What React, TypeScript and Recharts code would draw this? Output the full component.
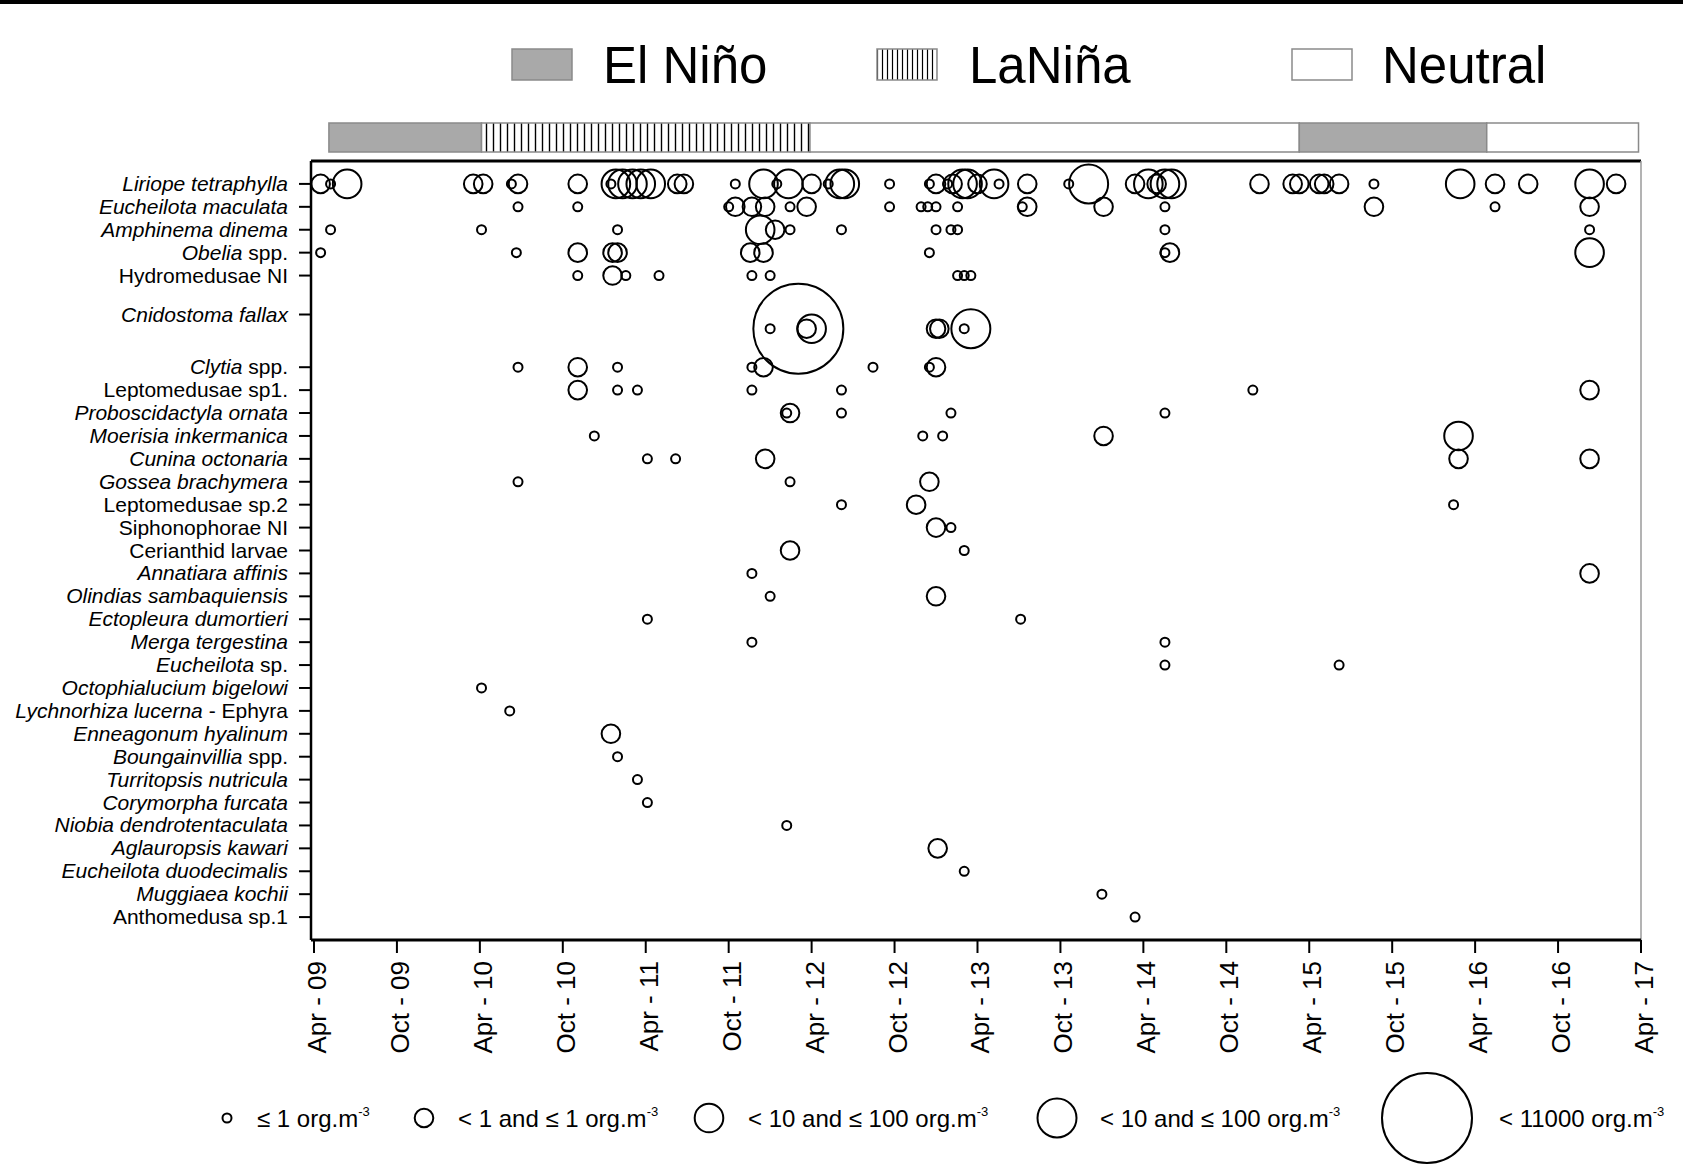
import React from "react";
import { ScatterChart, Scatter, XAxis, YAxis, ReferenceLine, ReferenceArea } from "recharts";

const FONT = "Arial, 'Liberation Sans', Helvetica, sans-serif";

// species labels: italic part + plain part
const speciesItalic = [
  "Liriope tetraphylla", "Eucheilota maculata", "Amphinema dinema", "Obelia", "",
  "Cnidostoma fallax", "Clytia", "", "Proboscidactyla ornata", "Moerisia inkermanica",
  "Cunina octonaria", "Gossea brachymera", "", "", "",
  "Annatiara affinis", "Olindias sambaquiensis", "Ectopleura dumortieri", "Merga tergestina", "Eucheilota",
  "Octophialucium bigelowi", "Lychnorhiza lucerna", "Enneagonum hyalinum", "Boungainvillia", "Turritopsis nutricula",
  "Corymorpha furcata", "Niobia dendrotentaculata", "Aglauropsis kawari", "Eucheilota duodecimalis", "Muggiaea kochii",
  "",
];
const speciesPlain = [
  "", "", "", " spp.", "Hydromedusae NI",
  "", " spp.", "Leptomedusae sp1.", "", "",
  "", "", "Leptomedusae sp.2", "Siphonophorae NI", "Cerianthid larvae",
  "", "", "", "", " sp.",
  "", " - Ephyra", "", " spp.", "",
  "", "", "", "", "",
  "Anthomedusa sp.1",
];
// row where the label tick sits / row where the bubbles sit
const tickRows = [1, 2, 3, 4, 5, 6.7, 9, 10, 11, 12, 13, 14, 15, 16, 17, 18, 19, 20, 21, 22, 23, 24, 25, 26, 27, 28, 29, 30, 31, 32, 33];
const markRows = [1, 2, 3, 4, 5, 7.32, 9, 10, 11, 12, 13, 14, 15, 16, 17, 18, 19, 20, 21, 22, 23, 24, 25, 26, 27, 28, 29, 30, 31, 32, 33];

const xTicks = [2009.25, 2009.75, 2010.25, 2010.75, 2011.25, 2011.75, 2012.25, 2012.75, 2013.25, 2013.75, 2014.25, 2014.75, 2015.25, 2015.75, 2016.25, 2016.75, 2017.25];
const xTickLabels = ["Apr - 09", "Oct - 09", "Apr - 10", "Oct - 10", "Apr - 11", "Oct - 11", "Apr - 12", "Oct - 12", "Apr - 13", "Oct - 13", "Apr - 14", "Oct - 14", "Apr - 15", "Oct - 15", "Apr - 16", "Oct - 16", "Apr - 17"];

// ENSO phases (decimal years)
const ensoStart = [2009.34, 2010.26, 2012.24, 2015.19, 2016.32];
const ensoEnd = [2010.26, 2012.24, 2015.19, 2016.32, 2017.235];
const ensoPhase = ["nino", "nina", "neutral", "nino", "neutral"];

// size classes -> circle radius
const classRadius = [4.5, 9.3, 14.3, 19.5, 45];
const classLabels = ["\u2264 1 org.m", "< 1 and \u2264 1 org.m", "< 10 and \u2264 100 org.m", "< 10 and \u2264 100 org.m", "< 11000 org.m"];

// samples: [decimal year, size class]
const liriopeTetraphylla = [
  [2009.29, 2], [2009.35, 1], [2009.45, 3], [2010.21, 2], [2010.27, 2], [2010.44, 1], [2010.48, 2], [2010.84, 2],
  [2011.04, 1], [2011.07, 3], [2011.11, 3], [2011.17, 3], [2011.22, 3], [2011.28, 3], [2011.44, 2], [2011.48, 2],
  [2011.79, 1], [2011.96, 3], [2012.04, 1], [2012.11, 3], [2012.25, 2], [2012.35, 1], [2012.42, 3], [2012.45, 3],
  [2012.72, 1], [2012.96, 1], [2013.0, 2], [2013.07, 1], [2013.1, 2], [2013.16, 3], [2013.19, 3], [2013.25, 2],
  [2013.35, 3], [2013.38, 1], [2013.55, 2], [2013.8, 1], [2013.92, 4], [2014.2, 2], [2014.28, 3], [2014.33, 2],
  [2014.38, 3], [2014.42, 3], [2014.95, 2], [2015.15, 2], [2015.19, 2], [2015.31, 2], [2015.34, 2], [2015.43, 2],
  [2015.64, 1], [2016.16, 3], [2016.37, 2], [2016.57, 2], [2016.94, 3], [2017.1, 2],
];
const eucheilotaMaculata = [
  [2010.48, 1], [2010.84, 1], [2011.75, 1], [2011.79, 2], [2011.89, 2], [2011.97, 2], [2012.12, 1], [2012.22, 2],
  [2012.72, 1], [2012.91, 1], [2012.95, 1], [2013.0, 1], [2013.13, 1], [2013.52, 1], [2013.55, 2], [2014.01, 2],
  [2014.38, 1], [2015.64, 2], [2016.37, 1], [2016.94, 2],
];
const amphinemaDinema = [
  [2009.35, 1], [2010.26, 1], [2011.08, 1], [2011.94, 3], [2012.03, 2], [2012.12, 1], [2012.43, 1], [2013.0, 1],
  [2013.09, 1], [2013.13, 1], [2014.38, 1], [2016.94, 1],
];
const obelia = [
  [2009.29, 1], [2010.47, 1], [2010.84, 2], [2011.05, 2], [2011.08, 2], [2011.88, 2], [2011.96, 2], [2012.96, 1],
  [2014.38, 1], [2014.41, 2], [2016.94, 3],
];
const hydromedusaeNI = [
  [2010.84, 1], [2011.05, 2], [2011.13, 1], [2011.33, 1], [2011.89, 1], [2012.0, 1], [2013.13, 1], [2013.17, 1], [2013.21, 1],
];
const cnidostomaFallax = [
  [2012.0, 1], [2012.17, 5], [2012.22, 2], [2012.25, 3], [2013.0, 2], [2013.02, 2], [2013.17, 1], [2013.21, 4],
];
const clytia = [
  [2010.48, 1], [2010.84, 2], [2011.08, 1], [2011.89, 1], [2011.96, 2], [2012.62, 1], [2012.96, 1], [2013.0, 2],
];
const leptomedusaeSp1 = [[2010.84, 2], [2011.08, 1], [2011.2, 1], [2011.89, 1], [2012.43, 1], [2014.91, 1], [2016.94, 2]];
const proboscidactylaOrnata = [[2012.1, 1], [2012.12, 2], [2012.43, 1], [2013.09, 1], [2014.38, 1]];
const moerisiaInkermanica = [[2010.94, 1], [2012.92, 1], [2013.04, 1], [2014.01, 2], [2016.15, 3]];
const cuninaOctonaria = [[2011.26, 1], [2011.43, 1], [2011.97, 2], [2016.15, 2], [2016.94, 2]];
const gosseaBrachymera = [[2010.48, 1], [2012.12, 1], [2012.96, 2]];
const leptomedusaeSp2 = [[2012.43, 1], [2012.88, 2], [2016.12, 1]];
const siphonophoraeNI = [[2013.0, 2], [2013.09, 1]];
const cerianthidLarvae = [[2012.12, 2], [2013.17, 1]];
const annatiaraAffinis = [[2011.89, 1], [2016.94, 2]];
const olindiasSambaquiensis = [[2012.0, 1], [2013.0, 2]];
const ectopleuraDumortieri = [[2011.26, 1], [2013.51, 1]];
const mergaTergestina = [[2011.89, 1], [2014.38, 1]];
const eucheilotaSp = [[2014.38, 1], [2015.43, 1]];
const octophialuciumBigelowi = [[2010.26, 1]];
const lychnorhizaEphyra = [[2010.43, 1]];
const enneagonumHyalinum = [[2011.04, 2]];
const boungainvillia = [[2011.08, 1]];
const turritopsisNutricula = [[2011.2, 1]];
const corymorphaFurcata = [[2011.26, 1]];
const niobiaDendrotentaculata = [[2012.1, 1]];
const aglauropsisKawari = [[2013.01, 2]];
const eucheilotaDuodecimalis = [[2013.17, 1]];
const muggiaeaKochii = [[2014.0, 1]];
const anthomedusaSp1 = [[2014.2, 1]];

const speciesSamples = [
  liriopeTetraphylla, eucheilotaMaculata, amphinemaDinema, obelia, hydromedusaeNI,
  cnidostomaFallax, clytia, leptomedusaeSp1, proboscidactylaOrnata, moerisiaInkermanica,
  cuninaOctonaria, gosseaBrachymera, leptomedusaeSp2, siphonophoraeNI, cerianthidLarvae,
  annatiaraAffinis, olindiasSambaquiensis, ectopleuraDumortieri, mergaTergestina, eucheilotaSp,
  octophialuciumBigelowi, lychnorhizaEphyra, enneagonumHyalinum, boungainvillia, turritopsisNutricula,
  corymorphaFurcata, niobiaDendrotentaculata, aglauropsisKawari, eucheilotaDuodecimalis, muggiaeaKochii,
  anthomedusaSp1,
];

const points = speciesSamples.flatMap((samples, i) =>
  samples.map(([year, cls]) => ({ year, row: markRows[i], cls }))
);

const ensoFill = (p: string) =>
  p === "nino" ? "#a9a9a9" : p === "nina" ? "url(#ninaStripes)" : "#ffffff";

function SpeciesTick(props: any) {
  const { x, y, payload } = props;
  const i = tickRows.indexOf(payload.value);
  return (
    <text x={x} y={y} dy={7} textAnchor="end" fontSize={21} fontFamily={FONT} fill="#000" style={{ whiteSpace: "pre" }}>
      {speciesItalic[i] ? <tspan fontStyle="italic">{speciesItalic[i]}</tspan> : null}
      {speciesPlain[i] ? <tspan>{speciesPlain[i]}</tspan> : null}
    </text>
  );
}

function DateTick(props: any) {
  const { x, y, payload } = props;
  const i = xTicks.indexOf(payload.value);
  return (
    <text transform={`translate(${x + 12},${y - 2}) rotate(-90)`} textAnchor="end" fontSize={26} fontFamily={FONT} fill="#000">
      {xTickLabels[i]}
    </text>
  );
}

function Bubble(props: any) {
  const { cx, cy, payload } = props;
  return <circle cx={cx} cy={cy} r={classRadius[payload.cls - 1]} fill="none" stroke="#000" strokeWidth={2} />;
}

// bottom legend layout (x of circle, x of text)
const legendCircleX = [227, 424, 709, 1057, 1427];
const legendTextX = [257, 458, 748, 1100, 1499];

export default function App() {
  return (
    <div style={{ position: "relative", width: 1683, height: 1167, background: "#fff", fontFamily: FONT }}>
      <style>{`body{margin:0}`}</style>
      <div style={{ position: "absolute", left: 0, top: 0, width: 1683, height: 4, background: "#000" }} />

      <div style={{ position: "absolute", left: 0, top: 0 }}>
        <ScatterChart width={1683} height={1167} margin={{ top: 161, right: 42, bottom: 107, left: 0 }}>
          <defs>
            <pattern id="ninaStripes" width={7} height={10} patternUnits="userSpaceOnUse">
              <rect width={7} height={10} fill="#fff" />
              <line x1={3.5} x2={3.5} y1={0} y2={10} stroke="#000" strokeWidth={1.4} />
            </pattern>
          </defs>
          <XAxis
            type="number"
            dataKey="year"
            domain={[2009.232, 2017.25]}
            ticks={xTicks}
            interval={0}
            height={120}
            tickSize={13}
            tickMargin={10}
            axisLine={{ stroke: "#000", strokeWidth: 3 }}
            tickLine={{ stroke: "#000", strokeWidth: 2 }}
            tick={<DateTick />}
            allowDataOverflow
          />
          <YAxis
            type="number"
            dataKey="row"
            domain={[0, 34]}
            reversed
            ticks={tickRows}
            interval={0}
            width={311}
            tickSize={12}
            tickMargin={11}
            axisLine={{ stroke: "#000", strokeWidth: 2.5 }}
            tickLine={{ stroke: "#000", strokeWidth: 2 }}
            tick={<SpeciesTick />}
            allowDataOverflow
          />
          {ensoStart.map((s, i) => (
            <ReferenceArea
              key={i}
              x1={s}
              x2={ensoEnd[i]}
              y1={-1.66}
              y2={-0.39}
              ifOverflow="visible"
              fill={ensoFill(ensoPhase[i])}
              fillOpacity={1}
              stroke="#8a8a8a"
              strokeWidth={1.5}
            />
          ))}
          <ReferenceLine y={0} stroke="#000" strokeWidth={3} />
          <ReferenceLine x={2017.25} stroke="#9a9a9a" strokeWidth={1.5} />
          <Scatter data={points} shape={<Bubble />} isAnimationActive={false} />
        </ScatterChart>
      </div>

      <svg width={1683} height={1167} style={{ position: "absolute", left: 0, top: 0, pointerEvents: "none" }}>
        <defs>
          <pattern id="ninaLegend" width={5} height={10} patternUnits="userSpaceOnUse">
            <rect width={5} height={10} fill="#fff" />
            <line x1={2.5} x2={2.5} y1={0} y2={10} stroke="#000" strokeWidth={1.2} />
          </pattern>
        </defs>
        {/* ENSO legend */}
        <rect x={512} y={49} width={60} height={31} fill="#a9a9a9" stroke="#8a8a8a" strokeWidth={1.5} />
        <text x={603} y={83} fontSize={51} fontFamily={FONT}>El Niño</text>
        <rect x={877} y={49} width={60} height={31} fill="url(#ninaLegend)" stroke="#8a8a8a" strokeWidth={1.5} />
        <text x={969} y={83} fontSize={51} fontFamily={FONT}>LaNiña</text>
        <rect x={1292} y={49} width={60} height={31} fill="#fff" stroke="#8a8a8a" strokeWidth={1.5} />
        <text x={1382} y={83} fontSize={51} fontFamily={FONT}>Neutral</text>

        {/* size legend */}
        {classRadius.map((r, i) => (
          <g key={i}>
            <circle cx={legendCircleX[i]} cy={1118} r={r} fill="none" stroke="#000" strokeWidth={2} />
            <text x={legendTextX[i]} y={1127} fontSize={24} fontFamily={FONT}>
              {classLabels[i]}
              <tspan fontSize={13} dy={-11}>-3</tspan>
            </text>
          </g>
        ))}
      </svg>
    </div>
  );
}
